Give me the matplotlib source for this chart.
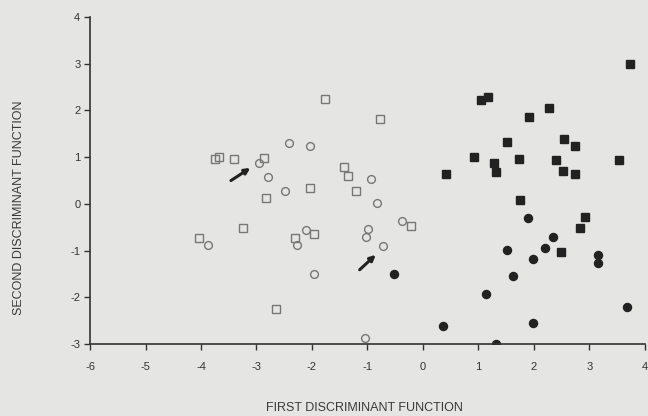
import numpy as np
import matplotlib
matplotlib.use("Agg")
import matplotlib.pyplot as plt

plt.rcParams['font.family'] = ['Liberation Sans', 'DejaVu Sans']
plt.rcParams['axes.unicode_minus'] = False

# open squares
sq_open_x = [-1.77, -0.77, -3.75, -3.68, -3.41, -2.86, -2.03, -2.83, -1.42, -1.35,
             -1.21, -3.25, -4.03, -2.30, -1.97, -2.64, -0.22]
sq_open_y = [2.25, 1.82, 0.96, 1.00, 0.96, 0.98, 0.33, 0.13, 0.78, 0.59,
             0.27, -0.51, -0.72, -0.73, -0.64, -2.25, -0.48]

# open circles
ci_open_x = [-2.42, -2.04, -2.95, -2.79, -2.49, -0.94, -0.83, -0.38, -0.99, -1.02,
             -0.72, -1.05, -3.88, -2.27, -2.10, -1.97]
ci_open_y = [1.31, 1.23, 0.87, 0.58, 0.28, 0.54, 0.01, -0.37, -0.54, -0.71,
             -0.91, -2.87, -0.89, -0.88, -0.55, -1.51]

# filled squares
sq_fill_x = [3.74, 2.28, 1.92, 1.05, 1.17, 1.51, 2.55, 2.74, 0.92, 0.41, 1.74,
             1.29, 1.32, 2.40, 2.52, 2.74, 3.54, 1.75, 2.92, 2.83, 2.49]
sq_fill_y = [3.00, 2.05, 1.87, 2.23, 2.28, 1.32, 1.40, 1.23, 1.00, 0.64, 0.96,
             0.87, 0.68, 0.93, 0.70, 0.63, 0.94, 0.08, -0.27, -0.51, -1.04]

# filled circles
ci_fill_x = [-0.52, 1.14, 0.37, 1.90, 2.35, 2.20, 1.51, 1.99, 3.16, 3.16,
             1.63, 3.68, 1.99, 1.32]
ci_fill_y = [-1.50, -1.93, -2.61, -0.31, -0.70, -0.94, -0.99, -1.18, -1.09, -1.26,
             -1.54, -2.20, -2.56, -3.00]

# arrows (tail -> head)
arrows = [((-3.46, 0.50), (-3.11, 0.77)),
          ((-1.14, -1.41), (-0.85, -1.09))]

bg = '#e5e5e3'
fig = plt.figure(figsize=(6.48, 4.16), dpi=100, facecolor=bg)
ax = fig.add_axes([0.139, 0.173, 0.856, 0.786], facecolor=bg)

ax.plot(sq_open_x, sq_open_y, 's', ms=6.3, mfc='none', mec='#777777', mew=1.0)
ax.plot(ci_open_x, ci_open_y, 'o', ms=5.6, mfc='none', mec='#777777', mew=1.0)
ax.plot(sq_fill_x, sq_fill_y, 's', ms=6.3, mfc='#222222', mec='#222222')
ax.plot(ci_fill_x, ci_fill_y, 'o', ms=5.8, mfc='#222222', mec='#222222')

for (x0, y0), (x1, y1) in arrows:
    ax.annotate('', xy=(x1, y1), xytext=(x0, y0),
                arrowprops=dict(arrowstyle='-|>', color='#222222', lw=2.2,
                                mutation_scale=8, shrinkA=0, shrinkB=0))

ax.set_xlim(-6, 4)
ax.set_ylim(-3, 4)
ax.set_xticks(range(-6, 5))
ax.set_yticks(range(-3, 5))
for s in ['top', 'right']:
    ax.spines[s].set_visible(False)
for s in ['left', 'bottom']:
    ax.spines[s].set_color('#333333')
    ax.spines[s].set_linewidth(1.2)
ax.tick_params(direction='out', length=4, width=1, colors='#333333',
               labelsize=8)
ax.tick_params(axis='x', pad=9)
ax.tick_params(axis='y', pad=3)

fig.text(0.563, 0.019, 'FIRST DISCRIMINANT FUNCTION', ha='center', va='center',
         fontsize=9, color='#3a3a3a')
fig.text(0.03, 0.5, 'SECOND DISCRIMINANT FUNCTION', ha='center', va='center',
         rotation=90, fontsize=9, color='#3a3a3a')

fig.savefig('out.png', dpi=100, facecolor=bg)
